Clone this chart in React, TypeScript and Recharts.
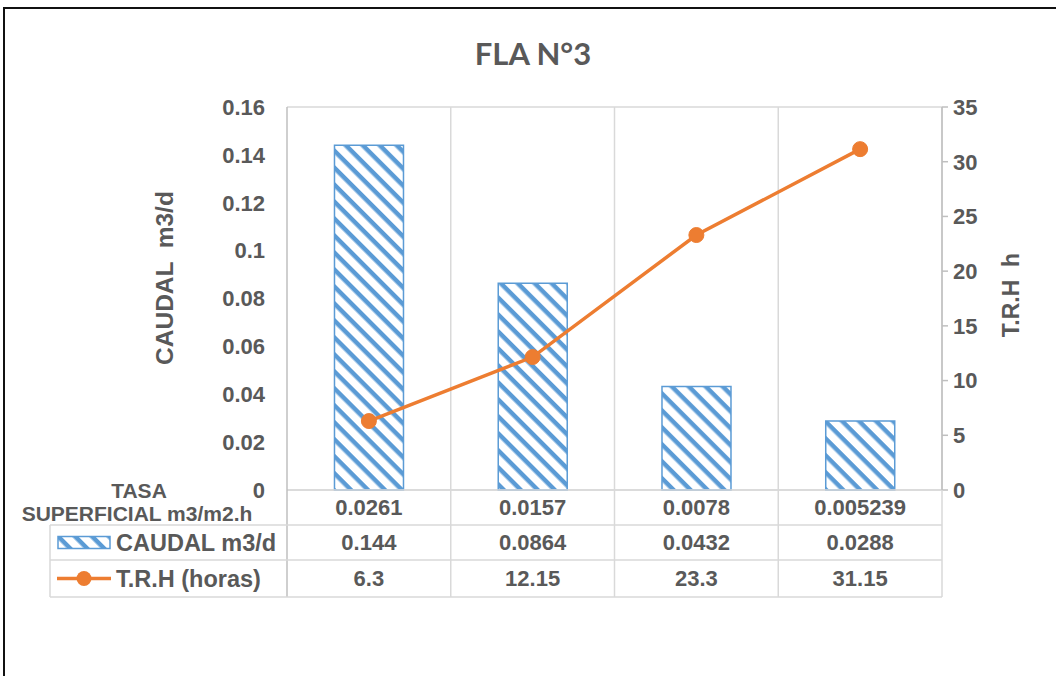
import { ComposedChart, Bar, Line, XAxis, YAxis, CartesianGrid } from 'recharts';

const tasaSuperficial = ['0.0261', '0.0157', '0.0078', '0.005239'];
const caudal = [0.144, 0.0864, 0.0432, 0.0288];
const trh = [6.3, 12.15, 23.3, 31.15];
const caudalTicks = [0, 0.02, 0.04, 0.06, 0.08, 0.1, 0.12, 0.14, 0.16];
const trhTicks = [0, 5, 10, 15, 20, 25, 30, 35];

const data = tasaSuperficial.map((t, i) => ({ tasa: t, caudal: caudal[i], trh: trh[i] }));

const W = 1056;
const H = 676;
const M = { top: 107, right: 0, bottom: 79, left: 150 };
const LEFT_AXIS_W = 137;
const RIGHT_AXIS_W = 114;
const X_AXIS_H = 107;
const PLOT_L = M.left + LEFT_AXIS_W;
const PLOT_R = W - M.right - RIGHT_AXIS_W;
const PLOT_B = H - M.bottom - X_AXIS_H;
const BAND = (PLOT_R - PLOT_L) / tasaSuperficial.length;
const ROWS = [PLOT_B, PLOT_B + 35, PLOT_B + 70, PLOT_B + 107];
const TABLE_X = 50;

const FONT = '"Liberation Sans", Arial, sans-serif';
const TEXT = '#595959';
const GRID = '#d9d9d9';
const AXIS = '#bfbfbf';
const BLUE = '#5B9BD5';
const ORANGE = '#ED7D31';

const mid = (r: number) => (ROWS[r] + ROWS[r + 1]) / 2;

const TableTick = (props: any) => {
  const { x, index } = props;
  const cell = { fill: TEXT, fontSize: 22, fontWeight: 700, fontFamily: FONT, textAnchor: 'middle' as const, dominantBaseline: 'central' as const };
  return (
    <g>
      <text x={x} y={mid(0)} {...cell}>{tasaSuperficial[index]}</text>
      <text x={x} y={mid(1)} {...cell}>{String(caudal[index])}</text>
      <text x={x} y={mid(2)} {...cell}>{String(trh[index])}</text>
      <line x1={x + BAND / 2} x2={x + BAND / 2} y1={ROWS[0]} y2={ROWS[3]} stroke={GRID} strokeWidth={1.5} />
      {index === 0 && (
        <g>
          <line x1={x - BAND / 2} x2={x - BAND / 2} y1={ROWS[0]} y2={ROWS[3]} stroke={AXIS} strokeWidth={1.5} />
          {[1, 2, 3].map((r) => (
            <line key={r} x1={TABLE_X} x2={PLOT_R} y1={ROWS[r]} y2={ROWS[r]} stroke={GRID} strokeWidth={1.5} />
          ))}
          <line x1={TABLE_X} x2={TABLE_X} y1={ROWS[1]} y2={ROWS[3]} stroke={GRID} strokeWidth={1.5} />
          <text x={139} y={ROWS[0]} fill={TEXT} fontSize={21} fontWeight={700} fontFamily={FONT} textAnchor="middle" dominantBaseline="central">TASA</text>
          <text x={137} y={ROWS[0] + 23} fill={TEXT} fontSize={21} fontWeight={700} fontFamily={FONT} textAnchor="middle" dominantBaseline="central">SUPERFICIAL m3/m2.h</text>
          <rect x={58} y={mid(1) - 6} width={52} height={12} fill="url(#hatch)" stroke={BLUE} strokeWidth={1.5} />
          <text x={116} y={mid(1)} fill={TEXT} fontSize={23.5} fontWeight={700} fontFamily={FONT} dominantBaseline="central">CAUDAL m3/d</text>
          <line x1={57} x2={111} y1={mid(2)} y2={mid(2)} stroke={ORANGE} strokeWidth={3.5} />
          <circle cx={84} cy={mid(2)} r={7.5} fill={ORANGE} />
          <text x={116} y={mid(2)} fill={TEXT} fontSize={23.5} fontWeight={700} fontFamily={FONT} dominantBaseline="central">T.R.H (horas)</text>
        </g>
      )}
    </g>
  );
};

const tickStyle = { fill: TEXT, fontSize: 22, fontWeight: 700, fontFamily: FONT };

export default function App() {
  return (
    <div style={{ position: 'absolute', left: 0, top: 0, width: W, height: H, background: '#fff', overflow: 'hidden' }}>
      <div style={{ position: 'absolute', left: 3, top: 7, width: W, height: H, borderLeft: '2px solid #111', borderTop: '2px solid #111' }} />
      <div style={{ position: 'absolute', left: 0, top: 34, width: W + 10, textAlign: 'center', fontFamily: 'Lato, sans-serif', fontWeight: 700, fontSize: 31, color: TEXT }}>
        FLA N°3
      </div>
      <div style={{ position: 'absolute', left: 165, top: 278, transform: 'translate(-50%, -50%) rotate(-90deg)', whiteSpace: 'pre', fontFamily: FONT, fontWeight: 700, fontSize: 24.5, color: TEXT }}>
        CAUDAL  m3/d
      </div>
      <div style={{ position: 'absolute', left: 1011, top: 295, transform: 'translate(-50%, -50%) rotate(-90deg)', whiteSpace: 'pre', fontFamily: FONT, fontWeight: 700, fontSize: 23, color: TEXT }}>
        T.R.H  h
      </div>
      <ComposedChart width={W} height={H} data={data} margin={M} barCategoryGap="29%" style={{ position: 'absolute', left: 0, top: 0 }}>
        <defs>
          <pattern id="hatch" patternUnits="userSpaceOnUse" width={12} height={12} patternTransform="rotate(45)">
            <rect width={12} height={12} fill="#fff" />
            <rect width={12} height={4.5} fill={BLUE} />
          </pattern>
        </defs>
        <CartesianGrid
          stroke={GRID}
          strokeWidth={1.5}
          verticalCoordinatesGenerator={({ offset }: any) =>
            tasaSuperficial.map((_, i) => offset.left + (offset.width * (i + 1)) / tasaSuperficial.length)
          }
        />
        <XAxis
          dataKey="tasa"
          height={X_AXIS_H}
          axisLine={{ stroke: GRID, strokeWidth: 1.5 }}
          tickLine={false}
          tickSize={0}
          tickMargin={0}
          interval={0}
          tick={(p: any) => <TableTick {...p} />}
        />
        <YAxis
          yAxisId="left"
          width={LEFT_AXIS_W}
          domain={[0, 0.16]}
          ticks={caudalTicks}
          axisLine={{ stroke: AXIS, strokeWidth: 1.5 }}
          tickLine={false}
          tickSize={6}
          tickMargin={16}
          tick={tickStyle}
        />
        <YAxis
          yAxisId="right"
          orientation="right"
          width={RIGHT_AXIS_W}
          domain={[0, 35]}
          ticks={trhTicks}
          axisLine={{ stroke: AXIS, strokeWidth: 1.5 }}
          tickLine={{ stroke: AXIS, strokeWidth: 1.5 }}
          tickSize={6}
          tickMargin={5}
          tick={tickStyle}
        />
        <Bar yAxisId="left" dataKey="caudal" fill="url(#hatch)" stroke={BLUE} strokeWidth={1.5} isAnimationActive={false} />
        <Line
          yAxisId="right"
          dataKey="trh"
          stroke={ORANGE}
          strokeWidth={3.5}
          dot={{ r: 7.5, fill: ORANGE, stroke: ORANGE, strokeWidth: 1 }}
          isAnimationActive={false}
        />
      </ComposedChart>
    </div>
  );
}
